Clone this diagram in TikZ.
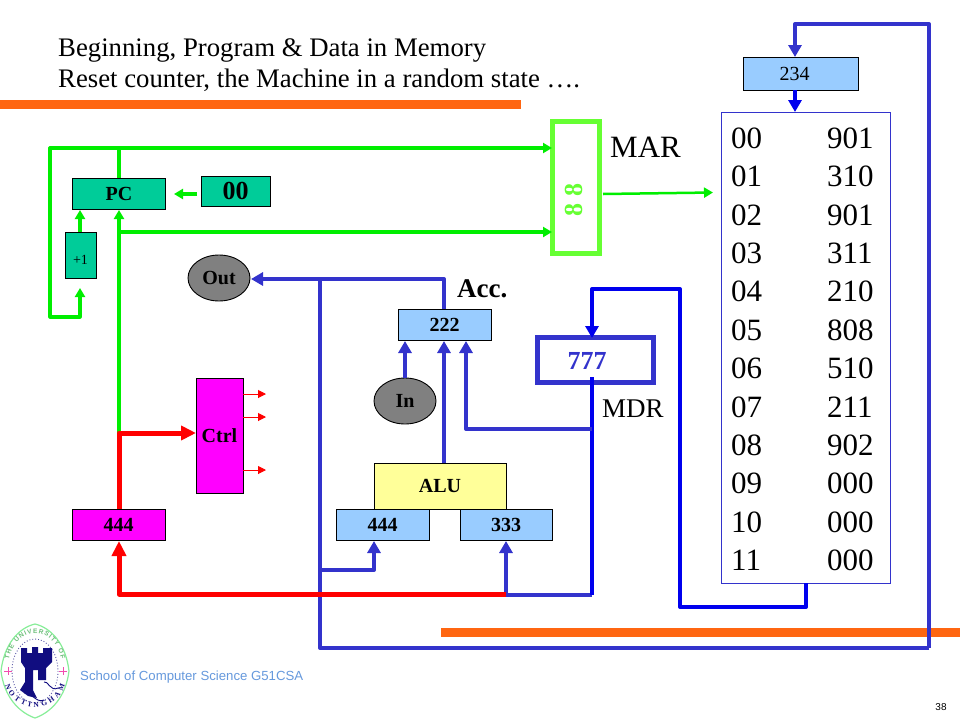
\documentclass[tikz,border=0pt]{standalone}
\usepackage{fontspec}
\setmainfont{Liberation Serif}
\newfontfamily\arialfont{Liberation Sans}
\usetikzlibrary{arrows.meta,decorations.text,shapes.geometric}
\definecolor{tealbox}{HTML}{00CC99}
\definecolor{bluebox}{HTML}{99CCFF}
\definecolor{magbox}{HTML}{FF00FF}
\definecolor{yelbox}{HTML}{FFFF99}
\definecolor{grayball}{HTML}{808080}
\definecolor{busblue}{HTML}{3333CC}
\definecolor{purebl}{HTML}{0000EE}
\definecolor{busgreen}{HTML}{00EE00}
\definecolor{margreen}{HTML}{66FF33}
\definecolor{orangebar}{HTML}{FF6611}
\definecolor{footblue}{HTML}{6699DD}
\definecolor{crestgreen}{HTML}{88EE99}
\definecolor{crestblue}{HTML}{110D80}
\newcommand{\fs}[1]{\fontsize{#1}{#1}\selectfont}
\tikzset{
  x=1pt,y=-1pt,
  regbox/.style={draw=black,line width=0.9pt,inner sep=0pt,font=\fs{20}\bfseries},
  ball/.style={regbox,ellipse,fill=grayball,minimum width=62pt,minimum height=46pt},
  plain/.style={inner sep=0pt},
  gline/.style={draw=busgreen,line width=3.2pt,line join=round},
  bline/.style={draw=busblue,line width=4pt,line join=round},
  pline/.style={draw=purebl,line width=4pt,line join=round},
  rline/.style={draw=red,line width=5pt,line join=round},
  thinred/.style={draw=red,line width=1pt,-{Triangle[length=8pt,width=8pt]}},
  garrow/.style={-{Triangle[length=9pt,width=10pt]}},
  barrow/.style={-{Triangle[length=12pt,width=13pt]}},
  rarrow/.style={-{Triangle[length=15pt,width=14pt]}},
  bar/.style={fill=orangebar,draw=none},
}
\begin{document}
\begin{tikzpicture}
\useasboundingbox (0,0) rectangle (960,720);
\fill[white] (0,0) rectangle (960,720);
% bars
\fill[bar] (0,100) rectangle (521,109);
\fill[bar] (441,628) rectangle (960,637);
% title
\node[plain,anchor=base west,font=\fs{26.75}] (t1) at (58,56) {Beginning, Program \& Data in Memory};
\node[plain,anchor=base west,font=\fs{26.75}] (t2) at (58,87) {Reset counter, the Machine in a random state ….};
% boxes
\node[regbox,fill=tealbox,minimum width=93pt,minimum height=31pt] (pc) at (119,193.5) {PC};
\node[regbox,fill=tealbox,minimum width=69pt,minimum height=30pt,font=\fs{26}\bfseries] (zero) at (235.5,191) {00};
\node[regbox,fill=tealbox,minimum width=31pt,minimum height=46pt] (plus) at (80.5,255) {};
\node[plain,font=\fs{14}] (plustxt) at (80.5,260) {+1};
\node[ball] (out) at (219,278) {Out};
\node[ball] (in) at (405,401) {In};
\node[regbox,fill=bluebox,minimum width=93pt,minimum height=31pt] (acc) at (444.5,324.5) {222};
\node[regbox,fill=yelbox,minimum width=132pt,minimum height=46pt] (alu) at (440,486) {ALU};
\node[regbox,fill=bluebox,minimum width=93pt,minimum height=31pt] (ra) at (382.5,524.5) {444};
\node[regbox,fill=bluebox,minimum width=92pt,minimum height=31pt] (rb) at (506,524.5) {333};
\node[regbox,fill=magbox,minimum width=47pt,minimum height=115pt] (ctrl) at (219.5,435.5) {Ctrl};
\node[regbox,fill=magbox,minimum width=93pt,minimum height=31pt] (ir) at (118.5,524.5) {444};
\node[regbox,fill=bluebox,minimum width=115pt,minimum height=33pt,font=\fs{20}\mdseries] (addr) at (800.5,73.5) {234\hspace*{12pt}};
% MAR and MDR
\node[draw=margreen,line width=5pt,minimum width=47pt,minimum height=132pt,inner sep=0pt] (mar) at (576,187.5) {};
\node[plain,rotate=90,text=margreen,font=\fs{26}\bfseries] (marval) at (574,200) {8 8};
\node[draw=busblue,line width=5pt,minimum width=116pt,minimum height=45pt,inner sep=0pt] (mdr) at (595.5,360) {};
\node[plain,anchor=base,text=busblue,font=\fs{26}\bfseries] (mdrval) at (587,369) {777};
\node[plain,anchor=base west,font=\fs{31}] (marl) at (610,157) {MAR};
\node[plain,anchor=base west,font=\fs{27}] (mdrl) at (602,417) {MDR};
\node[plain,anchor=base west,font=\fs{27}\bfseries] (accl) at (457,297) {Acc.};
% memory
\node[draw=busblue,line width=0.9pt,minimum width=169pt,minimum height=471pt,inner sep=0pt] (mem) at (805.5,347.5) {};
\foreach \i/\a/\d in {0/00/901,1/01/310,2/02/901,3/03/311,4/04/210,5/05/808,6/06/510,7/07/211,8/08/902,9/09/000,10/10/000,11/11/000}{
  \node[plain,anchor=base west,font=\fs{31}] (ma\i) at (731,{148.5+38.36*\i}) {\a};
  \node[plain,anchor=base west,font=\fs{31}] (md\i) at (827,{148.5+38.36*\i}) {\d};
}
% coordinates
\coordinate (gTL) at (50,148);
\coordinate (gBL) at (50,317);
\coordinate (gBR) at (80,317);
\coordinate (plusIn) at (80,288);
\coordinate (plusOut) at (80,232);
\coordinate (pcInA) at (80,210);
\coordinate (gTop) at (119,148);
\coordinate (pcTop) at (119,178);
\coordinate (pcInB) at (119,210);
\coordinate (gJoin) at (119,232);
\coordinate (marInA) at (552,148);
\coordinate (marInB) at (552,232);
\coordinate (redJ) at (119,433);
\coordinate (marOut) at (603,194);
\coordinate (memIn) at (713,192.5);
% blue coordinates
\coordinate (bTopL) at (795,24);
\coordinate (bTopR) at (929,24);
\coordinate (bBotR) at (929,648);
\coordinate (bBotL) at (320,648);
\coordinate (bOutJ) at (320,279);
\coordinate (bAccT) at (444,279);
\coordinate (outIn) at (251,279);
\coordinate (addrIn) at (795,57);
\coordinate (addrOut) at (795,90);
\coordinate (memTop) at (795,112);
\coordinate (accTop) at (444,309);
\coordinate (inAcc) at (405,378);
\coordinate (inAccT) at (405,341);
\coordinate (aluT) at (444,463);
\coordinate (aluAcc) at (444,341);
\coordinate (raJ) at (320,570);
\coordinate (raB) at (374,570);
\coordinate (raIn) at (374,541);
\coordinate (rbStart) at (488,595);
\coordinate (rbB) at (592,595);
\coordinate (mdrB) at (592,377);
\coordinate (rbJ) at (506,595);
\coordinate (rbIn) at (506,541);
\coordinate (mbrJ) at (592,429);
\coordinate (mbrL) at (466,429);
\coordinate (accIn3) at (466,341);
\coordinate (memOut) at (806,583);
\coordinate (memB) at (806,607);
\coordinate (memBL) at (680,607);
\coordinate (mTL) at (680,289);
\coordinate (mTM) at (592,289);
\coordinate (mdrIn) at (592,338);
% red coordinates
\coordinate (irT) at (119,509);
\coordinate (ctrlIn) at (196,433);
\coordinate (irIn) at (119,541);
\coordinate (redBL) at (119,594);
\coordinate (redBR) at (506,594);
\coordinate (c1a) at (243,394);\coordinate (c1b) at (266,394);
\coordinate (c2a) at (243,417);\coordinate (c2b) at (266,417);
\coordinate (c3a) at (243,470);\coordinate (c3b) at (266,470);
\coordinate (zeroOut) at (197,194);
\coordinate (pcInC) at (174,194);
% blue connectors
\draw[bline,barrow] (bBotR) -- (bBotL) -- (bOutJ) -- (outIn);
\draw[bline,barrow] (bBotR) -- (bTopR) -- (bTopL) -- (addrIn);
\draw[bline] (bOutJ) -- (bAccT) -- (accTop);
\draw[pline,barrow] (addrOut) -- (memTop);
\draw[bline,barrow] (inAcc) -- (inAccT);
\draw[bline,barrow] (aluT) -- (aluAcc);
\draw[bline,barrow] (raJ) -- (raB) -- (raIn);
\draw[bline] (rbStart) -- (rbB);
\draw[pline] (rbB) -- (mdrB);
\draw[bline,barrow] (rbJ) -- (rbIn);
\draw[bline,barrow] (mbrJ) -- (mbrL) -- (accIn3);
\draw[pline,barrow] (memOut) -- (memB) -- (memBL) -- (mTL) -- (mTM) -- (mdrIn);
% green connectors
\draw[gline,garrow] (gTop) -- (gTL) -- (gBL) -- (gBR) -- (plusIn);
\draw[gline,garrow] (gTop) -- (marInA);
\draw[gline] (gTop) -- (pcTop);
\draw[gline,garrow] (plusOut) -- (pcInA);
\draw[gline,garrow] (redJ) -- (pcInB);
\draw[gline,garrow] (gJoin) -- (marInB);
\draw[gline,garrow] (zeroOut) -- (pcInC);
\draw[gline,garrow,line width=2.5pt] (marOut) -- (memIn);
% red connectors
\draw[rline,rarrow] (irT) -- (redJ) -- (ctrlIn);
\draw[rline,rarrow] (redBR) -- (redBL) -- (irIn);
\draw[thinred] (c1a) -- (c1b);
\draw[thinred] (c2a) -- (c2b);
\draw[thinred] (c3a) -- (c3b);
% footer
\node[plain,anchor=base west,text=footblue,font=\arialfont\fs{13.2}] (foot) at (80,680) {School of Computer Science G51CSA};
\node[plain,anchor=base,font=\arialfont\fs{10}] (page) at (941,710) {38};
% crest
\draw[crestgreen,line width=1.2pt] (35,624) .. controls (52,628) and (66,645) .. (69,671) .. controls (66,696) and (52,712) .. (35,718) .. controls (18,712) and (4,696) .. (1,671) .. controls (4,645) and (18,628) .. (35,624) -- cycle;
\draw[crestblue!70,line width=0.9pt,dotted] (35,671) ellipse [x radius=23,y radius=32];
\path[decorate,decoration={text along path,text align={fit to path},text color=crestgreen!80!black,text={|\arialfont\fontsize{6.5}{6.5}\selectfont\bfseries|THE UNIVERSITY OF}}] (9,659) arc[start angle=195,end angle=345,x radius=27,y radius=35];
\path[decorate,decoration={text along path,text align={fit to path},text color=crestblue,text={|\fontsize{7.5}{7.5}\selectfont\bfseries|NOTTINGHAM}}] (5,685) arc[start angle=165,end angle=15,x radius=31,y radius=30];
\fill[crestblue] (21,648) -- (27,648) -- (27,653) -- (32,653) -- (32,647) -- (38,647) -- (38,653) -- (43,653) -- (43,648) -- (52,648) -- (52,662) -- (46,668) -- (46,680) -- (38,680) -- (38,670) -- (33,670) -- (33,690) -- (37,698) -- (28,696) -- (20,690) -- (25,682) -- (25,668) -- (21,662) -- cycle;
\draw[crestblue,line width=0.9pt] (24,693) .. controls (30,690) and (36,704) .. (44,700);
\draw[crestblue,line width=0.9pt] (44,682) .. controls (48,680) and (50,692) .. (58,688);
\draw[magenta!70,line width=0.8pt] (4,671) -- (12,671) (8,667) -- (8,675);
\draw[magenta!70,line width=0.8pt] (59,671) -- (67,671) (63,667) -- (63,675);
\end{tikzpicture}
\end{document}
